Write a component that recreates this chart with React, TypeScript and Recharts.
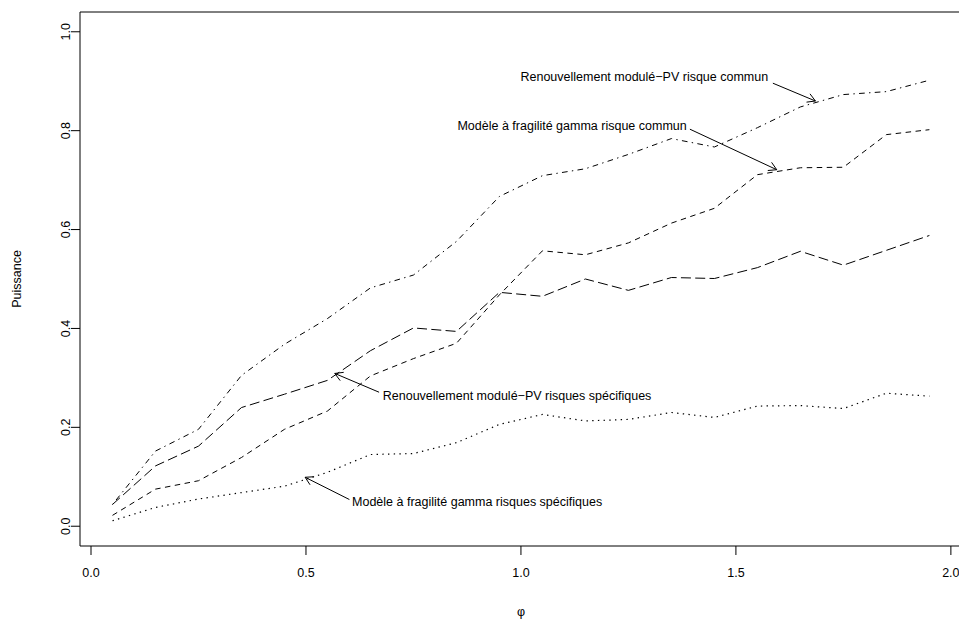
import React from 'react';
import { LineChart, Line, XAxis, YAxis, ReferenceLine, ReferenceDot, ReferenceArea } from 'recharts';

// valeurs de phi
const phi = [0.05, 0.15, 0.25, 0.35, 0.45, 0.55, 0.65, 0.75, 0.85, 0.95, 1.05, 1.15, 1.25, 1.35, 1.45, 1.55, 1.65, 1.75, 1.85, 1.95];

// puissance par modèle
const pvCommun = [0.044, 0.152, 0.196, 0.305, 0.368, 0.42, 0.482, 0.508, 0.576, 0.667, 0.709, 0.723, 0.752, 0.784, 0.767, 0.806, 0.848, 0.873, 0.879, 0.902];
const gammaCommun = [0.022, 0.075, 0.092, 0.139, 0.196, 0.233, 0.304, 0.339, 0.37, 0.468, 0.557, 0.549, 0.573, 0.613, 0.643, 0.711, 0.725, 0.726, 0.792, 0.802];
const pvSpecifiques = [0.044, 0.122, 0.162, 0.24, 0.267, 0.295, 0.355, 0.401, 0.394, 0.473, 0.465, 0.5, 0.477, 0.503, 0.501, 0.523, 0.556, 0.528, 0.558, 0.588];
const gammaSpecifiques = [0.011, 0.038, 0.055, 0.068, 0.081, 0.109, 0.145, 0.147, 0.169, 0.206, 0.226, 0.213, 0.216, 0.23, 0.22, 0.243, 0.244, 0.238, 0.269, 0.263];

const xTicks = [0, 0.5, 1, 1.5, 2];
const yTicks = [0, 0.2, 0.4, 0.6, 0.8, 1];

// annotations : texte (centre) et flèche (départ -> pointe)
const annotations = [
  { text: 'Renouvellement modulé\u2212PV risque commun', tx: 1.287, ty: 0.909, ax: 1.586, ay: 0.896, bx: 1.685, by: 0.86 },
  { text: 'Modèle à fragilité gamma risque commun', tx: 1.119, ty: 0.81, ax: 1.393, ay: 0.803, bx: 1.595, by: 0.721 },
  { text: 'Renouvellement modulé\u2212PV risques spécifiques', tx: 0.991, ty: 0.263, ax: 0.67, ay: 0.271, bx: 0.567, by: 0.309 },
  { text: 'Modèle à fragilité gamma risques spécifiques', tx: 0.898, ty: 0.048, ax: 0.601, ay: 0.054, bx: 0.498, by: 0.099 },
];

const data = phi.map((p, i) => ({
  phi: p,
  pvCommun: pvCommun[i],
  gammaCommun: gammaCommun[i],
  pvSpecifiques: pvSpecifiques[i],
  gammaSpecifiques: gammaSpecifiques[i],
}));

// le cadre déborde à droite de l'image, comme dans l'original
const X_DOMAIN = [-0.0256, 2.091];
const Y_DOMAIN = [-0.04, 1.04];
const FONT = '"Liberation Sans", Arial, Helvetica, sans-serif';
const FS = 12.5;

const Arrow = (props: any) => {
  const { x1, y1, x2, y2 } = props;
  const ang = Math.atan2(y2 - y1, x2 - x1);
  const L = 9;
  const a = Math.PI / 6;
  const p1 = [x2 - L * Math.cos(ang - a), y2 - L * Math.sin(ang - a)];
  const p2 = [x2 - L * Math.cos(ang + a), y2 - L * Math.sin(ang + a)];
  return (
    <g>
      <line x1={x1} y1={y1} x2={x2} y2={y2} stroke="#000" strokeWidth={1} />
      <polyline points={`${p1[0]},${p1[1]} ${x2},${y2} ${p2[0]},${p2[1]}`} fill="none" stroke="#000" strokeWidth={1} />
    </g>
  );
};

const makeLabel = (text: string) => (props: any) => (
  <text x={props.cx} y={props.cy} textAnchor="middle" dominantBaseline="central" fontFamily={FONT} fontSize={FS} fill="#000">
    {text}
  </text>
);

const YTick = (props: any) => {
  const { x, y, payload } = props;
  return (
    <text x={x} y={y} transform={`rotate(-90 ${x} ${y})`} textAnchor="middle" dominantBaseline="central" fontFamily={FONT} fontSize={FS} fill="#000">
      {Number(payload.value).toFixed(1)}
    </text>
  );
};

const YTitle = (props: any) => {
  const vb = props.viewBox || { x: 0, y: 12, width: 80, height: 534 };
  const cx = vb.x + 17;
  const cy = vb.y + vb.height / 2;
  return (
    <text x={cx} y={cy} transform={`rotate(-90 ${cx} ${cy})`} textAnchor="middle" dominantBaseline="central" fontFamily={FONT} fontSize={FS} fill="#000">
      Puissance
    </text>
  );
};

const XTitle = () => (
  <text x={521} y={612} textAnchor="middle" dominantBaseline="central" fontFamily={FONT} fontSize={FS} fill="#000">
    φ
  </text>
);

export default function App() {
  return (
    <div style={{ position: 'fixed', left: 0, top: 0, width: 959, height: 620, overflow: 'hidden', background: '#fff' }}>
      <LineChart width={1000} height={620} data={data} margin={{ top: 12, right: 10, bottom: 0, left: 0 }}>
        <XAxis
          dataKey="phi"
          type="number"
          domain={X_DOMAIN}
          ticks={xTicks}
          allowDataOverflow
          height={74}
          axisLine={false}
          tickLine={{ stroke: '#000' }}
          tickSize={9}
          tickMargin={13}
          tick={{ fill: '#000', fontSize: FS, fontFamily: FONT }}
          tickFormatter={(v: number) => v.toFixed(1)}
          label={{ content: <XTitle /> }}
        />
        <YAxis
          type="number"
          domain={Y_DOMAIN}
          ticks={yTicks}
          allowDataOverflow
          width={80}
          axisLine={false}
          tickLine={{ stroke: '#000' }}
          tickSize={9}
          tickMargin={5}
          tick={<YTick />}
          label={{ content: <YTitle /> }}
        />
        <ReferenceArea x1={X_DOMAIN[0]} x2={X_DOMAIN[1]} y1={Y_DOMAIN[0]} y2={Y_DOMAIN[1]} fill="none" stroke="#000" strokeWidth={1} fillOpacity={0} ifOverflow="visible" />
        <Line type="linear" dataKey="pvCommun" stroke="#000" strokeWidth={1} strokeDasharray="1.4 4.3 5.7 4.3" dot={false} isAnimationActive={false} />
        <Line type="linear" dataKey="gammaCommun" stroke="#000" strokeWidth={1} strokeDasharray="5.5 4.5" dot={false} isAnimationActive={false} />
        <Line type="linear" dataKey="pvSpecifiques" stroke="#000" strokeWidth={1} strokeDasharray="10 4.3" dot={false} isAnimationActive={false} />
        <Line type="linear" dataKey="gammaSpecifiques" stroke="#000" strokeWidth={1.2} strokeDasharray="1.4 4.3" dot={false} isAnimationActive={false} />
        {annotations.map((a, i) => (
          <ReferenceLine
            key={`arr${i}`}
            segment={[{ x: a.ax, y: a.ay }, { x: a.bx, y: a.by }]}
            shape={Arrow}
            ifOverflow="visible"
          />
        ))}
        {annotations.map((a, i) => (
          <ReferenceDot key={`lab${i}`} x={a.tx} y={a.ty} r={0} shape={makeLabel(a.text)} ifOverflow="visible" />
        ))}
      </LineChart>
    </div>
  );
}
